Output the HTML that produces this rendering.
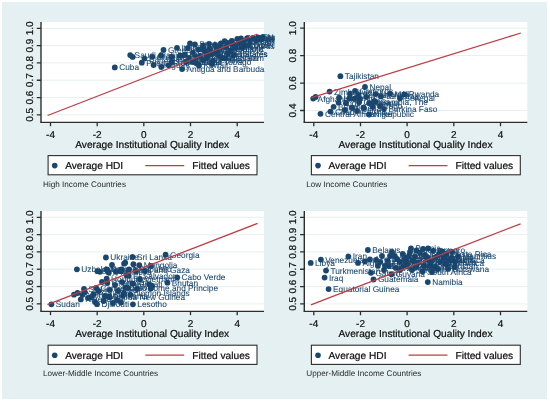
<!DOCTYPE html>
<html><head><meta charset="utf-8"><style>
html,body{margin:0;padding:0;background:#fff;}
svg{display:block;font-family:"Liberation Sans", sans-serif;will-change:transform;filter:blur(0.3px);}
text{text-rendering:geometricPrecision;}
</style></head><body>
<svg width="550" height="402" viewBox="0 0 550 402">
<rect x="0" y="0" width="550" height="402" fill="#fff"/>
<rect x="2" y="2" width="545" height="397" fill="#e4f0f1"/>
<clipPath id="c0_0"><rect x="2" y="2" width="272.5" height="190"/></clipPath>
<g clip-path="url(#c0_0)">
<rect x="41" y="22" width="223" height="100" fill="#fff"/>
<line x1="41" y1="114.8" x2="264" y2="114.8" stroke="#e6eff0" stroke-width="1"/>
<line x1="41" y1="97.6" x2="264" y2="97.6" stroke="#e6eff0" stroke-width="1"/>
<line x1="41" y1="80.2" x2="264" y2="80.2" stroke="#e6eff0" stroke-width="1"/>
<line x1="41" y1="62.9" x2="264" y2="62.9" stroke="#e6eff0" stroke-width="1"/>
<line x1="41" y1="45.6" x2="264" y2="45.6" stroke="#e6eff0" stroke-width="1"/>
<line x1="41" y1="28.4" x2="264" y2="28.4" stroke="#e6eff0" stroke-width="1"/>
<line x1="41" y1="22" x2="41" y2="122.4" stroke="#2e2e2e" stroke-width="1.4"/>
<line x1="40.3" y1="122.4" x2="264" y2="122.4" stroke="#2e2e2e" stroke-width="1.4"/>
<line x1="36.8" y1="114.85" x2="41" y2="114.85" stroke="#2e2e2e" stroke-width="1.3"/>
<text x="32.6" y="114.8" transform="rotate(-90 32.6 114.8)" text-anchor="middle" font-size="10" fill="#111" stroke="#111" stroke-width="0.22">0.5</text>
<line x1="36.8" y1="97.55" x2="41" y2="97.55" stroke="#2e2e2e" stroke-width="1.3"/>
<text x="32.6" y="97.6" transform="rotate(-90 32.6 97.6)" text-anchor="middle" font-size="10" fill="#111" stroke="#111" stroke-width="0.22">0.6</text>
<line x1="36.8" y1="80.25" x2="41" y2="80.25" stroke="#2e2e2e" stroke-width="1.3"/>
<text x="32.6" y="80.2" transform="rotate(-90 32.6 80.2)" text-anchor="middle" font-size="10" fill="#111" stroke="#111" stroke-width="0.22">0.7</text>
<line x1="36.8" y1="62.95" x2="41" y2="62.95" stroke="#2e2e2e" stroke-width="1.3"/>
<text x="32.6" y="62.9" transform="rotate(-90 32.6 62.9)" text-anchor="middle" font-size="10" fill="#111" stroke="#111" stroke-width="0.22">0.8</text>
<line x1="36.8" y1="45.65" x2="41" y2="45.65" stroke="#2e2e2e" stroke-width="1.3"/>
<text x="32.6" y="45.6" transform="rotate(-90 32.6 45.6)" text-anchor="middle" font-size="10" fill="#111" stroke="#111" stroke-width="0.22">0.9</text>
<line x1="36.8" y1="28.35" x2="41" y2="28.35" stroke="#2e2e2e" stroke-width="1.3"/>
<text x="32.6" y="28.4" transform="rotate(-90 32.6 28.4)" text-anchor="middle" font-size="10" fill="#111" stroke="#111" stroke-width="0.22">1.0</text>
<line x1="50.5" y1="122" x2="50.5" y2="126.2" stroke="#2e2e2e" stroke-width="1.3"/>
<text x="50.5" y="138" text-anchor="middle" font-size="10" fill="#111" stroke="#111" stroke-width="0.22">-4</text>
<line x1="97.2" y1="122" x2="97.2" y2="126.2" stroke="#2e2e2e" stroke-width="1.3"/>
<text x="97.2" y="138" text-anchor="middle" font-size="10" fill="#111" stroke="#111" stroke-width="0.22">-2</text>
<line x1="143.8" y1="122" x2="143.8" y2="126.2" stroke="#2e2e2e" stroke-width="1.3"/>
<text x="143.8" y="138" text-anchor="middle" font-size="10" fill="#111" stroke="#111" stroke-width="0.22">0</text>
<line x1="190.5" y1="122" x2="190.5" y2="126.2" stroke="#2e2e2e" stroke-width="1.3"/>
<text x="190.5" y="138" text-anchor="middle" font-size="10" fill="#111" stroke="#111" stroke-width="0.22">2</text>
<line x1="237.2" y1="122" x2="237.2" y2="126.2" stroke="#2e2e2e" stroke-width="1.3"/>
<text x="237.2" y="138" text-anchor="middle" font-size="10" fill="#111" stroke="#111" stroke-width="0.22">4</text>
<text x="152.2" y="148" text-anchor="middle" font-size="10.16" fill="#111" stroke="#111" stroke-width="0.22">Average Institutional Quality Index</text>
<circle cx="114.8" cy="67.4" r="2.9" fill="#1a476f"/>
<circle cx="130.2" cy="55.1" r="2.9" fill="#1a476f"/>
<circle cx="132.6" cy="56.9" r="2.9" fill="#1a476f"/>
<circle cx="141.8" cy="62.7" r="2.9" fill="#1a476f"/>
<circle cx="144.5" cy="58.6" r="2.9" fill="#1a476f"/>
<circle cx="152.3" cy="56.8" r="2.9" fill="#1a476f"/>
<circle cx="153.6" cy="65.0" r="2.9" fill="#1a476f"/>
<circle cx="161.0" cy="55.3" r="2.9" fill="#1a476f"/>
<circle cx="161.3" cy="67.0" r="2.9" fill="#1a476f"/>
<circle cx="163.5" cy="50.0" r="2.9" fill="#1a476f"/>
<circle cx="171.7" cy="62.2" r="2.9" fill="#1a476f"/>
<circle cx="171.8" cy="57.0" r="2.9" fill="#1a476f"/>
<circle cx="177.0" cy="47.8" r="2.9" fill="#1a476f"/>
<circle cx="184.9" cy="54.5" r="2.9" fill="#1a476f"/>
<circle cx="182.1" cy="69.1" r="2.9" fill="#1a476f"/>
<circle cx="183.5" cy="55.3" r="2.9" fill="#1a476f"/>
<circle cx="190.0" cy="43.5" r="2.9" fill="#1a476f"/>
<circle cx="193.0" cy="53.0" r="2.9" fill="#1a476f"/>
<circle cx="192.2" cy="61.8" r="2.9" fill="#1a476f"/>
<circle cx="194.9" cy="44.4" r="2.9" fill="#1a476f"/>
<circle cx="196.6" cy="63.5" r="2.9" fill="#1a476f"/>
<circle cx="198.3" cy="49.6" r="2.9" fill="#1a476f"/>
<circle cx="200.0" cy="56.0" r="2.9" fill="#1a476f"/>
<circle cx="203.0" cy="45.5" r="2.9" fill="#1a476f"/>
<circle cx="201.7" cy="49.1" r="2.9" fill="#1a476f"/>
<circle cx="207.0" cy="58.0" r="2.9" fill="#1a476f"/>
<circle cx="209.0" cy="44.0" r="2.9" fill="#1a476f"/>
<circle cx="211.0" cy="54.0" r="2.9" fill="#1a476f"/>
<circle cx="225.4" cy="58.4" r="2.9" fill="#1a476f"/>
<circle cx="215.0" cy="45.0" r="2.9" fill="#1a476f"/>
<circle cx="217.0" cy="50.0" r="2.9" fill="#1a476f"/>
<circle cx="219.0" cy="56.0" r="2.9" fill="#1a476f"/>
<circle cx="221.0" cy="43.5" r="2.9" fill="#1a476f"/>
<circle cx="224.6" cy="41.2" r="2.9" fill="#1a476f"/>
<circle cx="226.0" cy="47.0" r="2.9" fill="#1a476f"/>
<circle cx="213.2" cy="53.8" r="2.9" fill="#1a476f"/>
<circle cx="230.0" cy="43.0" r="2.9" fill="#1a476f"/>
<circle cx="232.0" cy="41.0" r="2.9" fill="#1a476f"/>
<circle cx="234.0" cy="45.0" r="2.9" fill="#1a476f"/>
<circle cx="237.3" cy="39.0" r="2.9" fill="#1a476f"/>
<circle cx="239.0" cy="43.0" r="2.9" fill="#1a476f"/>
<circle cx="241.0" cy="38.5" r="2.9" fill="#1a476f"/>
<circle cx="244.0" cy="42.0" r="2.9" fill="#1a476f"/>
<circle cx="247.0" cy="38.5" r="2.9" fill="#1a476f"/>
<circle cx="250.0" cy="41.0" r="2.9" fill="#1a476f"/>
<circle cx="253.0" cy="38.0" r="2.9" fill="#1a476f"/>
<circle cx="256.0" cy="40.5" r="2.9" fill="#1a476f"/>
<circle cx="258.0" cy="37.5" r="2.9" fill="#1a476f"/>
<circle cx="261.0" cy="39.5" r="2.9" fill="#1a476f"/>
<circle cx="263.0" cy="37.0" r="2.9" fill="#1a476f"/>
<circle cx="236.0" cy="48.0" r="2.9" fill="#1a476f"/>
<circle cx="244.0" cy="46.0" r="2.9" fill="#1a476f"/>
<circle cx="222.0" cy="58.0" r="2.9" fill="#1a476f"/>
<circle cx="168.7" cy="65.3" r="2.9" fill="#1a476f"/>
<circle cx="180.0" cy="55.7" r="2.9" fill="#1a476f"/>
<circle cx="205.0" cy="51.0" r="2.9" fill="#1a476f"/>
<circle cx="228.0" cy="53.5" r="2.9" fill="#1a476f"/>
<circle cx="213.0" cy="61.0" r="2.9" fill="#1a476f"/>
<circle cx="188.0" cy="48.0" r="2.9" fill="#1a476f"/>
<circle cx="189.0" cy="58.0" r="2.9" fill="#1a476f"/>
<circle cx="203.0" cy="60.0" r="2.9" fill="#1a476f"/>
<circle cx="207.0" cy="54.5" r="2.9" fill="#1a476f"/>
<circle cx="210.0" cy="49.0" r="2.9" fill="#1a476f"/>
<circle cx="218.0" cy="52.0" r="2.9" fill="#1a476f"/>
<circle cx="220.0" cy="46.0" r="2.9" fill="#1a476f"/>
<circle cx="231.0" cy="50.5" r="2.9" fill="#1a476f"/>
<circle cx="186.0" cy="62.0" r="2.9" fill="#1a476f"/>
<circle cx="199.0" cy="65.5" r="2.9" fill="#1a476f"/>
<circle cx="212.0" cy="64.0" r="2.9" fill="#1a476f"/>
<circle cx="196.0" cy="57.0" r="2.9" fill="#1a476f"/>
<circle cx="227.0" cy="43.0" r="2.9" fill="#1a476f"/>
<circle cx="242.0" cy="48.0" r="2.9" fill="#1a476f"/>
<circle cx="249.0" cy="45.0" r="2.9" fill="#1a476f"/>
<circle cx="234.0" cy="55.0" r="2.9" fill="#1a476f"/>
<text x="119.2" y="70.3" font-size="8.3" fill="#1a476f" stroke="#1a476f" stroke-width="0.08">Cuba</text>
<text x="134.6" y="58.0" font-size="8.3" fill="#1a476f" stroke="#1a476f" stroke-width="0.08">Saudi Arabia</text>
<text x="146.2" y="65.6" font-size="8.3" fill="#1a476f" stroke="#1a476f" stroke-width="0.08">Puerto Rico</text>
<text x="148.9" y="61.5" font-size="8.3" fill="#1a476f" stroke="#1a476f" stroke-width="0.08">Bahamas</text>
<text x="156.7" y="59.7" font-size="8.3" fill="#1a476f" stroke="#1a476f" stroke-width="0.08">Chile</text>
<text x="158.0" y="67.9" font-size="8.3" fill="#1a476f" stroke="#1a476f" stroke-width="0.08">Uruguay</text>
<text x="167.9" y="52.9" font-size="8.3" fill="#1a476f" stroke="#1a476f" stroke-width="0.08">Greece</text>
<text x="176.1" y="65.1" font-size="8.3" fill="#1a476f" stroke="#1a476f" stroke-width="0.08">Trinidad and Tobago</text>
<text x="176.2" y="59.9" font-size="8.3" fill="#1a476f" stroke="#1a476f" stroke-width="0.08">Hungary</text>
<text x="181.4" y="50.7" font-size="8.3" fill="#1a476f" stroke="#1a476f" stroke-width="0.08">Italy</text>
<text x="189.3" y="57.4" font-size="8.3" fill="#1a476f" stroke="#1a476f" stroke-width="0.08">United Arab Emirates</text>
<text x="186.5" y="72.0" font-size="8.3" fill="#1a476f" stroke="#1a476f" stroke-width="0.08">Antigua and Barbuda</text>
<text x="197.4" y="55.9" font-size="8.3" fill="#1a476f" stroke="#1a476f" stroke-width="0.08">Latvia</text>
<text x="196.6" y="64.7" font-size="8.3" fill="#1a476f" stroke="#1a476f" stroke-width="0.08">Kuwait</text>
<text x="199.3" y="47.3" font-size="8.3" fill="#1a476f" stroke="#1a476f" stroke-width="0.08">Spain</text>
<text x="202.7" y="52.5" font-size="8.3" fill="#1a476f" stroke="#1a476f" stroke-width="0.08">Croatia</text>
<text x="206.1" y="52.0" font-size="8.3" fill="#1a476f" stroke="#1a476f" stroke-width="0.08">Czech Republic</text>
<text x="211.4" y="60.9" font-size="8.3" fill="#1a476f" stroke="#1a476f" stroke-width="0.08">Brunei</text>
<text x="215.4" y="56.9" font-size="8.3" fill="#1a476f" stroke="#1a476f" stroke-width="0.08">Lithuania</text>
<text x="229.8" y="61.3" font-size="8.3" fill="#1a476f" stroke="#1a476f" stroke-width="0.08">Bahrain</text>
<text x="219.4" y="47.9" font-size="8.3" fill="#1a476f" stroke="#1a476f" stroke-width="0.08">Estonia</text>
<text x="229.0" y="44.1" font-size="8.3" fill="#1a476f" stroke="#1a476f" stroke-width="0.08">Israel</text>
<text x="230.4" y="49.9" font-size="8.3" fill="#1a476f" stroke="#1a476f" stroke-width="0.08">Korea</text>
<text x="217.6" y="56.7" font-size="8.3" fill="#1a476f" stroke="#1a476f" stroke-width="0.08">United States</text>
<text x="238.4" y="47.9" font-size="8.3" fill="#1a476f" stroke="#1a476f" stroke-width="0.08">Portugal</text>
<text x="245.4" y="41.4" font-size="8.3" fill="#1a476f" stroke="#1a476f" stroke-width="0.08">France</text>
<text x="248.4" y="44.9" font-size="8.3" fill="#1a476f" stroke="#1a476f" stroke-width="0.08">Japan</text>
<text x="254.4" y="43.9" font-size="8.3" fill="#1a476f" stroke="#1a476f" stroke-width="0.08">Belgium</text>
<text x="257.4" y="40.9" font-size="8.3" fill="#1a476f" stroke="#1a476f" stroke-width="0.08">Austria</text>
<text x="260.4" y="43.4" font-size="8.3" fill="#1a476f" stroke="#1a476f" stroke-width="0.08">Finland</text>
<text x="262.4" y="40.4" font-size="8.3" fill="#1a476f" stroke="#1a476f" stroke-width="0.08">Canada</text>
<text x="265.4" y="42.4" font-size="8.3" fill="#1a476f" stroke="#1a476f" stroke-width="0.08">Sweden</text>
<text x="267.4" y="39.9" font-size="8.3" fill="#1a476f" stroke="#1a476f" stroke-width="0.08">Norway</text>
<text x="248.4" y="48.9" font-size="8.3" fill="#1a476f" stroke="#1a476f" stroke-width="0.08">Cyprus</text>
<text x="192.4" y="50.9" font-size="8.3" fill="#1a476f" stroke="#1a476f" stroke-width="0.08">Slovenia</text>
<text x="193.4" y="60.9" font-size="8.3" fill="#1a476f" stroke="#1a476f" stroke-width="0.08">Brunei Darussalam</text>
<text x="207.4" y="62.9" font-size="8.3" fill="#1a476f" stroke="#1a476f" stroke-width="0.08">Argentina</text>
<text x="214.4" y="51.9" font-size="8.3" fill="#1a476f" stroke="#1a476f" stroke-width="0.08">New Zealand</text>
<text x="224.4" y="48.9" font-size="8.3" fill="#1a476f" stroke="#1a476f" stroke-width="0.08">Ireland</text>
<text x="190.4" y="64.9" font-size="8.3" fill="#1a476f" stroke="#1a476f" stroke-width="0.08">Oman</text>
<text x="203.4" y="68.4" font-size="8.3" fill="#1a476f" stroke="#1a476f" stroke-width="0.08">Kuwait</text>
<text x="253.4" y="47.9" font-size="8.3" fill="#1a476f" stroke="#1a476f" stroke-width="0.08">Luxembourg</text>
<line x1="47.6" y1="115.5" x2="257.5" y2="34" stroke="#bb3e46" stroke-width="1.3"/>
<rect x="48.1" y="155.6" width="208.9" height="19.2" fill="#fff" stroke="#2e2e2e" stroke-width="1.1"/>
<circle cx="54.7" cy="165.6" r="2.8" fill="#1a476f"/>
<text x="65.2" y="169.3" font-size="10.16" fill="#111" stroke="#111" stroke-width="0.22">Average HDI</text>
<line x1="145.3" y1="165.6" x2="184.2" y2="165.6" stroke="#bb3e46" stroke-width="1.3"/>
<text x="192.3" y="169.3" font-size="10.16" fill="#111" stroke="#111" stroke-width="0.22">Fitted values</text>
<text x="43" y="186.7" font-size="8.16" fill="#2a2a2a" stroke="#2a2a2a" stroke-width="0.0">High Income Countries</text>
</g>
<clipPath id="c263_0"><rect x="265.3" y="2" width="272.5" height="190"/></clipPath>
<g clip-path="url(#c263_0)">
<rect x="304.3" y="22" width="222.99999999999994" height="100" fill="#fff"/>
<line x1="304.3" y1="110.5" x2="527.3" y2="110.5" stroke="#e6eff0" stroke-width="1"/>
<line x1="304.3" y1="83.1" x2="527.3" y2="83.1" stroke="#e6eff0" stroke-width="1"/>
<line x1="304.3" y1="55.6" x2="527.3" y2="55.6" stroke="#e6eff0" stroke-width="1"/>
<line x1="304.3" y1="28.2" x2="527.3" y2="28.2" stroke="#e6eff0" stroke-width="1"/>
<line x1="304.3" y1="22" x2="304.3" y2="122.4" stroke="#2e2e2e" stroke-width="1.4"/>
<line x1="303.6" y1="122.4" x2="527.3" y2="122.4" stroke="#2e2e2e" stroke-width="1.4"/>
<line x1="300.1" y1="110.52" x2="304.3" y2="110.52" stroke="#2e2e2e" stroke-width="1.3"/>
<text x="295.90000000000003" y="110.5" transform="rotate(-90 295.90000000000003 110.5)" text-anchor="middle" font-size="10" fill="#111" stroke="#111" stroke-width="0.22">0.4</text>
<line x1="300.1" y1="83.08" x2="304.3" y2="83.08" stroke="#2e2e2e" stroke-width="1.3"/>
<text x="295.90000000000003" y="83.1" transform="rotate(-90 295.90000000000003 83.1)" text-anchor="middle" font-size="10" fill="#111" stroke="#111" stroke-width="0.22">0.6</text>
<line x1="300.1" y1="55.64" x2="304.3" y2="55.64" stroke="#2e2e2e" stroke-width="1.3"/>
<text x="295.90000000000003" y="55.6" transform="rotate(-90 295.90000000000003 55.6)" text-anchor="middle" font-size="10" fill="#111" stroke="#111" stroke-width="0.22">0.8</text>
<line x1="300.1" y1="28.20" x2="304.3" y2="28.20" stroke="#2e2e2e" stroke-width="1.3"/>
<text x="295.90000000000003" y="28.2" transform="rotate(-90 295.90000000000003 28.2)" text-anchor="middle" font-size="10" fill="#111" stroke="#111" stroke-width="0.22">1.0</text>
<line x1="313.8" y1="122" x2="313.8" y2="126.2" stroke="#2e2e2e" stroke-width="1.3"/>
<text x="313.8" y="138" text-anchor="middle" font-size="10" fill="#111" stroke="#111" stroke-width="0.22">-4</text>
<line x1="360.5" y1="122" x2="360.5" y2="126.2" stroke="#2e2e2e" stroke-width="1.3"/>
<text x="360.5" y="138" text-anchor="middle" font-size="10" fill="#111" stroke="#111" stroke-width="0.22">-2</text>
<line x1="407.1" y1="122" x2="407.1" y2="126.2" stroke="#2e2e2e" stroke-width="1.3"/>
<text x="407.1" y="138" text-anchor="middle" font-size="10" fill="#111" stroke="#111" stroke-width="0.22">0</text>
<line x1="453.8" y1="122" x2="453.8" y2="126.2" stroke="#2e2e2e" stroke-width="1.3"/>
<text x="453.8" y="138" text-anchor="middle" font-size="10" fill="#111" stroke="#111" stroke-width="0.22">2</text>
<line x1="500.5" y1="122" x2="500.5" y2="126.2" stroke="#2e2e2e" stroke-width="1.3"/>
<text x="500.5" y="138" text-anchor="middle" font-size="10" fill="#111" stroke="#111" stroke-width="0.22">4</text>
<text x="415.5" y="148" text-anchor="middle" font-size="10.16" fill="#111" stroke="#111" stroke-width="0.22">Average Institutional Quality Index</text>
<circle cx="340.4" cy="76.2" r="2.9" fill="#1a476f"/>
<circle cx="365.0" cy="87.0" r="2.9" fill="#1a476f"/>
<circle cx="329.6" cy="91.6" r="2.9" fill="#1a476f"/>
<circle cx="313.2" cy="98.6" r="2.9" fill="#1a476f"/>
<circle cx="315.6" cy="97.0" r="2.9" fill="#1a476f"/>
<circle cx="355.0" cy="90.9" r="2.9" fill="#1a476f"/>
<circle cx="339.1" cy="97.7" r="2.9" fill="#1a476f"/>
<circle cx="338.6" cy="102.7" r="2.9" fill="#1a476f"/>
<circle cx="345.9" cy="103.2" r="2.9" fill="#1a476f"/>
<circle cx="349.5" cy="98.2" r="2.9" fill="#1a476f"/>
<circle cx="354.5" cy="98.6" r="2.9" fill="#1a476f"/>
<circle cx="358.6" cy="95.0" r="2.9" fill="#1a476f"/>
<circle cx="359.1" cy="102.3" r="2.9" fill="#1a476f"/>
<circle cx="363.6" cy="107.7" r="2.9" fill="#1a476f"/>
<circle cx="366.4" cy="96.8" r="2.9" fill="#1a476f"/>
<circle cx="369.1" cy="103.2" r="2.9" fill="#1a476f"/>
<circle cx="375.5" cy="94.1" r="2.9" fill="#1a476f"/>
<circle cx="374.5" cy="100.9" r="2.9" fill="#1a476f"/>
<circle cx="372.7" cy="106.8" r="2.9" fill="#1a476f"/>
<circle cx="333.6" cy="106.8" r="2.9" fill="#1a476f"/>
<circle cx="320.5" cy="113.8" r="2.9" fill="#1a476f"/>
<circle cx="330.5" cy="111.6" r="2.9" fill="#1a476f"/>
<circle cx="369.1" cy="114.5" r="2.9" fill="#1a476f"/>
<circle cx="380.9" cy="96.4" r="2.9" fill="#1a476f"/>
<circle cx="390.0" cy="93.6" r="2.9" fill="#1a476f"/>
<circle cx="400.0" cy="98.2" r="2.9" fill="#1a476f"/>
<circle cx="404.4" cy="94.3" r="2.9" fill="#1a476f"/>
<circle cx="375.7" cy="101.8" r="2.9" fill="#1a476f"/>
<circle cx="380.0" cy="105.9" r="2.9" fill="#1a476f"/>
<circle cx="371.0" cy="104.0" r="2.9" fill="#1a476f"/>
<circle cx="384.0" cy="108.8" r="2.9" fill="#1a476f"/>
<circle cx="352.0" cy="108.0" r="2.9" fill="#1a476f"/>
<circle cx="345.0" cy="110.0" r="2.9" fill="#1a476f"/>
<circle cx="357.0" cy="111.0" r="2.9" fill="#1a476f"/>
<circle cx="360.0" cy="99.0" r="2.9" fill="#1a476f"/>
<circle cx="350.0" cy="94.0" r="2.9" fill="#1a476f"/>
<text x="344.8" y="79.1" font-size="8.3" fill="#1a476f" stroke="#1a476f" stroke-width="0.08">Tajikistan</text>
<text x="369.4" y="89.9" font-size="8.3" fill="#1a476f" stroke="#1a476f" stroke-width="0.08">Nepal</text>
<text x="334.0" y="94.5" font-size="8.3" fill="#1a476f" stroke="#1a476f" stroke-width="0.08">Zimbabwe</text>
<text x="317.6" y="101.5" font-size="8.3" fill="#1a476f" stroke="#1a476f" stroke-width="0.08">Afghanistan</text>
<text x="359.4" y="93.8" font-size="8.3" fill="#1a476f" stroke="#1a476f" stroke-width="0.08">Comoros</text>
<text x="343.5" y="100.6" font-size="8.3" fill="#1a476f" stroke="#1a476f" stroke-width="0.08">Haiti</text>
<text x="343.0" y="105.6" font-size="8.3" fill="#1a476f" stroke="#1a476f" stroke-width="0.08">Togo</text>
<text x="353.9" y="101.1" font-size="8.3" fill="#1a476f" stroke="#1a476f" stroke-width="0.08">Benin</text>
<text x="363.0" y="97.9" font-size="8.3" fill="#1a476f" stroke="#1a476f" stroke-width="0.08">Kenya</text>
<text x="363.5" y="105.2" font-size="8.3" fill="#1a476f" stroke="#1a476f" stroke-width="0.08">Guinea</text>
<text x="373.5" y="106.1" font-size="8.3" fill="#1a476f" stroke="#1a476f" stroke-width="0.08">Malawi</text>
<text x="379.9" y="97.0" font-size="8.3" fill="#1a476f" stroke="#1a476f" stroke-width="0.08">Uganda</text>
<text x="338.0" y="109.7" font-size="8.3" fill="#1a476f" stroke="#1a476f" stroke-width="0.08">Burundi</text>
<text x="324.9" y="116.7" font-size="8.3" fill="#1a476f" stroke="#1a476f" stroke-width="0.08">Central African Republic</text>
<text x="334.9" y="114.5" font-size="8.3" fill="#1a476f" stroke="#1a476f" stroke-width="0.08">Chad</text>
<text x="373.5" y="117.4" font-size="8.3" fill="#1a476f" stroke="#1a476f" stroke-width="0.08">Niger</text>
<text x="385.3" y="99.3" font-size="8.3" fill="#1a476f" stroke="#1a476f" stroke-width="0.08">Tanzania</text>
<text x="394.4" y="96.5" font-size="8.3" fill="#1a476f" stroke="#1a476f" stroke-width="0.08">Mali</text>
<text x="404.4" y="101.1" font-size="8.3" fill="#1a476f" stroke="#1a476f" stroke-width="0.08">Senegal</text>
<text x="408.8" y="97.2" font-size="8.3" fill="#1a476f" stroke="#1a476f" stroke-width="0.08">Rwanda</text>
<text x="380.1" y="104.7" font-size="8.3" fill="#1a476f" stroke="#1a476f" stroke-width="0.08">Gambia, The</text>
<text x="384.4" y="108.8" font-size="8.3" fill="#1a476f" stroke="#1a476f" stroke-width="0.08">Togo</text>
<text x="388.4" y="111.7" font-size="8.3" fill="#1a476f" stroke="#1a476f" stroke-width="0.08">Burkina Faso</text>
<text x="356.4" y="110.9" font-size="8.3" fill="#1a476f" stroke="#1a476f" stroke-width="0.08">Liberia</text>
<text x="361.4" y="113.9" font-size="8.3" fill="#1a476f" stroke="#1a476f" stroke-width="0.08">Eritrea</text>
<line x1="311.6" y1="97.6" x2="520.9" y2="33" stroke="#bb3e46" stroke-width="1.3"/>
<rect x="311.40000000000003" y="155.6" width="208.9" height="19.2" fill="#fff" stroke="#2e2e2e" stroke-width="1.1"/>
<circle cx="318.0" cy="165.6" r="2.8" fill="#1a476f"/>
<text x="328.5" y="169.3" font-size="10.16" fill="#111" stroke="#111" stroke-width="0.22">Average HDI</text>
<line x1="408.6" y1="165.6" x2="447.5" y2="165.6" stroke="#bb3e46" stroke-width="1.3"/>
<text x="455.6" y="169.3" font-size="10.16" fill="#111" stroke="#111" stroke-width="0.22">Fitted values</text>
<text x="306.3" y="186.7" font-size="8.16" fill="#2a2a2a" stroke="#2a2a2a" stroke-width="0.0">Low Income Countries</text>
</g>
<clipPath id="c0_189"><rect x="2" y="191.0" width="272.5" height="200"/></clipPath>
<g clip-path="url(#c0_189)">
<rect x="41" y="211.0" width="223" height="100.0" fill="#fff"/>
<line x1="41" y1="303.9" x2="264" y2="303.9" stroke="#e6eff0" stroke-width="1"/>
<line x1="41" y1="286.6" x2="264" y2="286.6" stroke="#e6eff0" stroke-width="1"/>
<line x1="41" y1="269.2" x2="264" y2="269.2" stroke="#e6eff0" stroke-width="1"/>
<line x1="41" y1="251.9" x2="264" y2="251.9" stroke="#e6eff0" stroke-width="1"/>
<line x1="41" y1="234.7" x2="264" y2="234.7" stroke="#e6eff0" stroke-width="1"/>
<line x1="41" y1="217.3" x2="264" y2="217.3" stroke="#e6eff0" stroke-width="1"/>
<line x1="41" y1="211.0" x2="41" y2="311.4" stroke="#2e2e2e" stroke-width="1.4"/>
<line x1="40.3" y1="311.4" x2="264" y2="311.4" stroke="#2e2e2e" stroke-width="1.4"/>
<line x1="36.8" y1="303.85" x2="41" y2="303.85" stroke="#2e2e2e" stroke-width="1.3"/>
<text x="32.6" y="303.9" transform="rotate(-90 32.6 303.9)" text-anchor="middle" font-size="10" fill="#111" stroke="#111" stroke-width="0.22">0.5</text>
<line x1="36.8" y1="286.55" x2="41" y2="286.55" stroke="#2e2e2e" stroke-width="1.3"/>
<text x="32.6" y="286.6" transform="rotate(-90 32.6 286.6)" text-anchor="middle" font-size="10" fill="#111" stroke="#111" stroke-width="0.22">0.6</text>
<line x1="36.8" y1="269.25" x2="41" y2="269.25" stroke="#2e2e2e" stroke-width="1.3"/>
<text x="32.6" y="269.2" transform="rotate(-90 32.6 269.2)" text-anchor="middle" font-size="10" fill="#111" stroke="#111" stroke-width="0.22">0.7</text>
<line x1="36.8" y1="251.95" x2="41" y2="251.95" stroke="#2e2e2e" stroke-width="1.3"/>
<text x="32.6" y="251.9" transform="rotate(-90 32.6 251.9)" text-anchor="middle" font-size="10" fill="#111" stroke="#111" stroke-width="0.22">0.8</text>
<line x1="36.8" y1="234.65" x2="41" y2="234.65" stroke="#2e2e2e" stroke-width="1.3"/>
<text x="32.6" y="234.7" transform="rotate(-90 32.6 234.7)" text-anchor="middle" font-size="10" fill="#111" stroke="#111" stroke-width="0.22">0.9</text>
<line x1="36.8" y1="217.35" x2="41" y2="217.35" stroke="#2e2e2e" stroke-width="1.3"/>
<text x="32.6" y="217.3" transform="rotate(-90 32.6 217.3)" text-anchor="middle" font-size="10" fill="#111" stroke="#111" stroke-width="0.22">1.0</text>
<line x1="50.5" y1="311.0" x2="50.5" y2="315.2" stroke="#2e2e2e" stroke-width="1.3"/>
<text x="50.5" y="327.0" text-anchor="middle" font-size="10" fill="#111" stroke="#111" stroke-width="0.22">-4</text>
<line x1="97.2" y1="311.0" x2="97.2" y2="315.2" stroke="#2e2e2e" stroke-width="1.3"/>
<text x="97.2" y="327.0" text-anchor="middle" font-size="10" fill="#111" stroke="#111" stroke-width="0.22">-2</text>
<line x1="143.8" y1="311.0" x2="143.8" y2="315.2" stroke="#2e2e2e" stroke-width="1.3"/>
<text x="143.8" y="327.0" text-anchor="middle" font-size="10" fill="#111" stroke="#111" stroke-width="0.22">0</text>
<line x1="190.5" y1="311.0" x2="190.5" y2="315.2" stroke="#2e2e2e" stroke-width="1.3"/>
<text x="190.5" y="327.0" text-anchor="middle" font-size="10" fill="#111" stroke="#111" stroke-width="0.22">2</text>
<line x1="237.2" y1="311.0" x2="237.2" y2="315.2" stroke="#2e2e2e" stroke-width="1.3"/>
<text x="237.2" y="327.0" text-anchor="middle" font-size="10" fill="#111" stroke="#111" stroke-width="0.22">4</text>
<text x="152.2" y="337.0" text-anchor="middle" font-size="10.16" fill="#111" stroke="#111" stroke-width="0.22">Average Institutional Quality Index</text>
<circle cx="51.4" cy="304.3" r="2.9" fill="#1a476f"/>
<circle cx="105.9" cy="257.5" r="2.9" fill="#1a476f"/>
<circle cx="132.5" cy="257.0" r="2.9" fill="#1a476f"/>
<circle cx="165.6" cy="254.7" r="2.9" fill="#1a476f"/>
<circle cx="76.9" cy="269.3" r="2.9" fill="#1a476f"/>
<circle cx="74.0" cy="294.7" r="2.9" fill="#1a476f"/>
<circle cx="77.5" cy="293.0" r="2.9" fill="#1a476f"/>
<circle cx="82.5" cy="294.8" r="2.9" fill="#1a476f"/>
<circle cx="85.0" cy="292.3" r="2.9" fill="#1a476f"/>
<circle cx="80.8" cy="299.4" r="2.9" fill="#1a476f"/>
<circle cx="91.2" cy="297.3" r="2.9" fill="#1a476f"/>
<circle cx="93.7" cy="294.2" r="2.9" fill="#1a476f"/>
<circle cx="96.1" cy="288.0" r="2.9" fill="#1a476f"/>
<circle cx="98.6" cy="291.1" r="2.9" fill="#1a476f"/>
<circle cx="97.0" cy="304.2" r="2.9" fill="#1a476f"/>
<circle cx="103.6" cy="301.0" r="2.9" fill="#1a476f"/>
<circle cx="104.9" cy="296.0" r="2.9" fill="#1a476f"/>
<circle cx="109.8" cy="289.9" r="2.9" fill="#1a476f"/>
<circle cx="109.8" cy="297.3" r="2.9" fill="#1a476f"/>
<circle cx="97.4" cy="271.2" r="2.9" fill="#1a476f"/>
<circle cx="99.9" cy="271.8" r="2.9" fill="#1a476f"/>
<circle cx="106.7" cy="269.3" r="2.9" fill="#1a476f"/>
<circle cx="108.6" cy="272.4" r="2.9" fill="#1a476f"/>
<circle cx="116.0" cy="271.8" r="2.9" fill="#1a476f"/>
<circle cx="121.0" cy="271.2" r="2.9" fill="#1a476f"/>
<circle cx="124.1" cy="263.7" r="2.9" fill="#1a476f"/>
<circle cx="106.7" cy="278.7" r="2.9" fill="#1a476f"/>
<circle cx="107.3" cy="283.0" r="2.9" fill="#1a476f"/>
<circle cx="125.2" cy="262.7" r="2.9" fill="#1a476f"/>
<circle cx="139.3" cy="265.2" r="2.9" fill="#1a476f"/>
<circle cx="121.5" cy="269.4" r="2.9" fill="#1a476f"/>
<circle cx="107.3" cy="270.5" r="2.9" fill="#1a476f"/>
<circle cx="128.7" cy="275.7" r="2.9" fill="#1a476f"/>
<circle cx="122.2" cy="282.1" r="2.9" fill="#1a476f"/>
<circle cx="132.7" cy="283.6" r="2.9" fill="#1a476f"/>
<circle cx="149.1" cy="284.3" r="2.9" fill="#1a476f"/>
<circle cx="152.1" cy="285.8" r="2.9" fill="#1a476f"/>
<circle cx="128.0" cy="287.9" r="2.9" fill="#1a476f"/>
<circle cx="125.2" cy="287.3" r="2.9" fill="#1a476f"/>
<circle cx="108.7" cy="297.0" r="2.9" fill="#1a476f"/>
<circle cx="123.0" cy="295.5" r="2.9" fill="#1a476f"/>
<circle cx="124.0" cy="293.0" r="2.9" fill="#1a476f"/>
<circle cx="132.9" cy="304.3" r="2.9" fill="#1a476f"/>
<circle cx="177.2" cy="277.5" r="2.9" fill="#1a476f"/>
<circle cx="167.4" cy="282.7" r="2.9" fill="#1a476f"/>
<circle cx="115.0" cy="285.0" r="2.9" fill="#1a476f"/>
<circle cx="117.0" cy="300.0" r="2.9" fill="#1a476f"/>
<circle cx="140.0" cy="279.0" r="2.9" fill="#1a476f"/>
<circle cx="112.0" cy="265.0" r="2.9" fill="#1a476f"/>
<circle cx="129.0" cy="269.4" r="2.9" fill="#1a476f"/>
<circle cx="150.6" cy="288.8" r="2.9" fill="#1a476f"/>
<circle cx="130.4" cy="294.8" r="2.9" fill="#1a476f"/>
<circle cx="133.4" cy="264.2" r="2.9" fill="#1a476f"/>
<circle cx="126.7" cy="275.4" r="2.9" fill="#1a476f"/>
<circle cx="88.0" cy="298.0" r="2.9" fill="#1a476f"/>
<circle cx="95.0" cy="302.0" r="2.9" fill="#1a476f"/>
<circle cx="113.0" cy="303.0" r="2.9" fill="#1a476f"/>
<circle cx="121.0" cy="302.5" r="2.9" fill="#1a476f"/>
<circle cx="84.0" cy="289.0" r="2.9" fill="#1a476f"/>
<circle cx="102.0" cy="282.0" r="2.9" fill="#1a476f"/>
<circle cx="136.0" cy="271.0" r="2.9" fill="#1a476f"/>
<circle cx="145.0" cy="271.0" r="2.9" fill="#1a476f"/>
<circle cx="151.0" cy="266.0" r="2.9" fill="#1a476f"/>
<circle cx="118.0" cy="291.0" r="2.9" fill="#1a476f"/>
<circle cx="137.0" cy="289.0" r="2.9" fill="#1a476f"/>
<text x="55.8" y="307.2" font-size="8.3" fill="#1a476f" stroke="#1a476f" stroke-width="0.08">Sudan</text>
<text x="110.3" y="260.4" font-size="8.3" fill="#1a476f" stroke="#1a476f" stroke-width="0.08">Ukraine</text>
<text x="136.9" y="259.9" font-size="8.3" fill="#1a476f" stroke="#1a476f" stroke-width="0.08">Sri Lanka</text>
<text x="170.0" y="257.6" font-size="8.3" fill="#1a476f" stroke="#1a476f" stroke-width="0.08">Georgia</text>
<text x="81.3" y="272.2" font-size="8.3" fill="#1a476f" stroke="#1a476f" stroke-width="0.08">Uzbekistan</text>
<text x="86.9" y="297.7" font-size="8.3" fill="#1a476f" stroke="#1a476f" stroke-width="0.08">Yemen</text>
<text x="85.2" y="302.3" font-size="8.3" fill="#1a476f" stroke="#1a476f" stroke-width="0.08">Nigeria</text>
<text x="98.1" y="297.1" font-size="8.3" fill="#1a476f" stroke="#1a476f" stroke-width="0.08">Pakistan</text>
<text x="100.5" y="290.9" font-size="8.3" fill="#1a476f" stroke="#1a476f" stroke-width="0.08">Cameroon</text>
<text x="101.4" y="307.1" font-size="8.3" fill="#1a476f" stroke="#1a476f" stroke-width="0.08">Djibouti</text>
<text x="109.3" y="298.9" font-size="8.3" fill="#1a476f" stroke="#1a476f" stroke-width="0.08">Mauritania</text>
<text x="114.2" y="292.8" font-size="8.3" fill="#1a476f" stroke="#1a476f" stroke-width="0.08">Kenya</text>
<text x="101.8" y="274.1" font-size="8.3" fill="#1a476f" stroke="#1a476f" stroke-width="0.08">Egypt</text>
<text x="111.1" y="272.2" font-size="8.3" fill="#1a476f" stroke="#1a476f" stroke-width="0.08">Kyrgyz Republic</text>
<text x="120.4" y="274.7" font-size="8.3" fill="#1a476f" stroke="#1a476f" stroke-width="0.08">Moldova</text>
<text x="111.1" y="281.6" font-size="8.3" fill="#1a476f" stroke="#1a476f" stroke-width="0.08">Honduras</text>
<text x="111.7" y="285.9" font-size="8.3" fill="#1a476f" stroke="#1a476f" stroke-width="0.08">Ghana</text>
<text x="143.7" y="268.1" font-size="8.3" fill="#1a476f" stroke="#1a476f" stroke-width="0.08">Mongolia</text>
<text x="111.7" y="273.4" font-size="8.3" fill="#1a476f" stroke="#1a476f" stroke-width="0.08">West Bank and Gaza</text>
<text x="133.1" y="278.6" font-size="8.3" fill="#1a476f" stroke="#1a476f" stroke-width="0.08">El Salvador</text>
<text x="126.6" y="285.0" font-size="8.3" fill="#1a476f" stroke="#1a476f" stroke-width="0.08">India</text>
<text x="137.1" y="286.5" font-size="8.3" fill="#1a476f" stroke="#1a476f" stroke-width="0.08">Kiribati</text>
<text x="132.4" y="290.8" font-size="8.3" fill="#1a476f" stroke="#1a476f" stroke-width="0.08">Sao Tome and Principe</text>
<text x="129.6" y="290.2" font-size="8.3" fill="#1a476f" stroke="#1a476f" stroke-width="0.08">Bolivia</text>
<text x="113.1" y="299.9" font-size="8.3" fill="#1a476f" stroke="#1a476f" stroke-width="0.08">Papua New Guinea</text>
<text x="128.4" y="295.9" font-size="8.3" fill="#1a476f" stroke="#1a476f" stroke-width="0.08">Solomon Islands</text>
<text x="137.3" y="307.2" font-size="8.3" fill="#1a476f" stroke="#1a476f" stroke-width="0.08">Lesotho</text>
<text x="181.6" y="280.4" font-size="8.3" fill="#1a476f" stroke="#1a476f" stroke-width="0.08">Cabo Verde</text>
<text x="171.8" y="285.6" font-size="8.3" fill="#1a476f" stroke="#1a476f" stroke-width="0.08">Bhutan</text>
<text x="144.4" y="281.9" font-size="8.3" fill="#1a476f" stroke="#1a476f" stroke-width="0.08">Vietnam</text>
<text x="88.4" y="291.9" font-size="8.3" fill="#1a476f" stroke="#1a476f" stroke-width="0.08">Syria</text>
<line x1="47.4" y1="304.7" x2="257.6" y2="223.4" stroke="#bb3e46" stroke-width="1.3"/>
<rect x="48.1" y="345.2" width="208.9" height="19.2" fill="#fff" stroke="#2e2e2e" stroke-width="1.1"/>
<circle cx="54.7" cy="355.2" r="2.8" fill="#1a476f"/>
<text x="65.2" y="358.9" font-size="10.16" fill="#111" stroke="#111" stroke-width="0.22">Average HDI</text>
<line x1="145.3" y1="355.2" x2="184.2" y2="355.2" stroke="#bb3e46" stroke-width="1.3"/>
<text x="192.3" y="358.9" font-size="10.16" fill="#111" stroke="#111" stroke-width="0.22">Fitted values</text>
<text x="43" y="376.3" font-size="8.16" fill="#2a2a2a" stroke="#2a2a2a" stroke-width="0.0">Lower-Middle Income Countries</text>
</g>
<clipPath id="c263_189"><rect x="265.3" y="191.0" width="272.5" height="200"/></clipPath>
<g clip-path="url(#c263_189)">
<rect x="304.3" y="211.0" width="222.99999999999994" height="100.0" fill="#fff"/>
<line x1="304.3" y1="303.9" x2="527.3" y2="303.9" stroke="#e6eff0" stroke-width="1"/>
<line x1="304.3" y1="286.6" x2="527.3" y2="286.6" stroke="#e6eff0" stroke-width="1"/>
<line x1="304.3" y1="269.2" x2="527.3" y2="269.2" stroke="#e6eff0" stroke-width="1"/>
<line x1="304.3" y1="251.9" x2="527.3" y2="251.9" stroke="#e6eff0" stroke-width="1"/>
<line x1="304.3" y1="234.7" x2="527.3" y2="234.7" stroke="#e6eff0" stroke-width="1"/>
<line x1="304.3" y1="217.3" x2="527.3" y2="217.3" stroke="#e6eff0" stroke-width="1"/>
<line x1="304.3" y1="211.0" x2="304.3" y2="311.4" stroke="#2e2e2e" stroke-width="1.4"/>
<line x1="303.6" y1="311.4" x2="527.3" y2="311.4" stroke="#2e2e2e" stroke-width="1.4"/>
<line x1="300.1" y1="303.85" x2="304.3" y2="303.85" stroke="#2e2e2e" stroke-width="1.3"/>
<text x="295.90000000000003" y="303.9" transform="rotate(-90 295.90000000000003 303.9)" text-anchor="middle" font-size="10" fill="#111" stroke="#111" stroke-width="0.22">0.5</text>
<line x1="300.1" y1="286.55" x2="304.3" y2="286.55" stroke="#2e2e2e" stroke-width="1.3"/>
<text x="295.90000000000003" y="286.6" transform="rotate(-90 295.90000000000003 286.6)" text-anchor="middle" font-size="10" fill="#111" stroke="#111" stroke-width="0.22">0.6</text>
<line x1="300.1" y1="269.25" x2="304.3" y2="269.25" stroke="#2e2e2e" stroke-width="1.3"/>
<text x="295.90000000000003" y="269.2" transform="rotate(-90 295.90000000000003 269.2)" text-anchor="middle" font-size="10" fill="#111" stroke="#111" stroke-width="0.22">0.7</text>
<line x1="300.1" y1="251.95" x2="304.3" y2="251.95" stroke="#2e2e2e" stroke-width="1.3"/>
<text x="295.90000000000003" y="251.9" transform="rotate(-90 295.90000000000003 251.9)" text-anchor="middle" font-size="10" fill="#111" stroke="#111" stroke-width="0.22">0.8</text>
<line x1="300.1" y1="234.65" x2="304.3" y2="234.65" stroke="#2e2e2e" stroke-width="1.3"/>
<text x="295.90000000000003" y="234.7" transform="rotate(-90 295.90000000000003 234.7)" text-anchor="middle" font-size="10" fill="#111" stroke="#111" stroke-width="0.22">0.9</text>
<line x1="300.1" y1="217.35" x2="304.3" y2="217.35" stroke="#2e2e2e" stroke-width="1.3"/>
<text x="295.90000000000003" y="217.3" transform="rotate(-90 295.90000000000003 217.3)" text-anchor="middle" font-size="10" fill="#111" stroke="#111" stroke-width="0.22">1.0</text>
<line x1="313.8" y1="311.0" x2="313.8" y2="315.2" stroke="#2e2e2e" stroke-width="1.3"/>
<text x="313.8" y="327.0" text-anchor="middle" font-size="10" fill="#111" stroke="#111" stroke-width="0.22">-4</text>
<line x1="360.5" y1="311.0" x2="360.5" y2="315.2" stroke="#2e2e2e" stroke-width="1.3"/>
<text x="360.5" y="327.0" text-anchor="middle" font-size="10" fill="#111" stroke="#111" stroke-width="0.22">-2</text>
<line x1="407.1" y1="311.0" x2="407.1" y2="315.2" stroke="#2e2e2e" stroke-width="1.3"/>
<text x="407.1" y="327.0" text-anchor="middle" font-size="10" fill="#111" stroke="#111" stroke-width="0.22">0</text>
<line x1="453.8" y1="311.0" x2="453.8" y2="315.2" stroke="#2e2e2e" stroke-width="1.3"/>
<text x="453.8" y="327.0" text-anchor="middle" font-size="10" fill="#111" stroke="#111" stroke-width="0.22">2</text>
<line x1="500.5" y1="311.0" x2="500.5" y2="315.2" stroke="#2e2e2e" stroke-width="1.3"/>
<text x="500.5" y="327.0" text-anchor="middle" font-size="10" fill="#111" stroke="#111" stroke-width="0.22">4</text>
<text x="415.5" y="337.0" text-anchor="middle" font-size="10.16" fill="#111" stroke="#111" stroke-width="0.22">Average Institutional Quality Index</text>
<circle cx="310.7" cy="262.9" r="2.9" fill="#1a476f"/>
<circle cx="320.9" cy="259.6" r="2.9" fill="#1a476f"/>
<circle cx="326.0" cy="270.6" r="2.9" fill="#1a476f"/>
<circle cx="324.6" cy="277.6" r="2.9" fill="#1a476f"/>
<circle cx="328.6" cy="289.1" r="2.9" fill="#1a476f"/>
<circle cx="348.4" cy="256.4" r="2.9" fill="#1a476f"/>
<circle cx="367.9" cy="250.0" r="2.9" fill="#1a476f"/>
<circle cx="358.0" cy="262.9" r="2.9" fill="#1a476f"/>
<circle cx="365.0" cy="261.4" r="2.9" fill="#1a476f"/>
<circle cx="369.9" cy="259.4" r="2.9" fill="#1a476f"/>
<circle cx="377.9" cy="265.9" r="2.9" fill="#1a476f"/>
<circle cx="387.8" cy="260.9" r="2.9" fill="#1a476f"/>
<circle cx="394.8" cy="255.9" r="2.9" fill="#1a476f"/>
<circle cx="399.7" cy="261.9" r="2.9" fill="#1a476f"/>
<circle cx="395.8" cy="267.9" r="2.9" fill="#1a476f"/>
<circle cx="402.7" cy="253.9" r="2.9" fill="#1a476f"/>
<circle cx="371.0" cy="272.8" r="2.9" fill="#1a476f"/>
<circle cx="391.5" cy="274.2" r="2.9" fill="#1a476f"/>
<circle cx="373.5" cy="279.5" r="2.9" fill="#1a476f"/>
<circle cx="427.8" cy="282.1" r="2.9" fill="#1a476f"/>
<circle cx="382.0" cy="256.0" r="2.9" fill="#1a476f"/>
<circle cx="385.0" cy="266.0" r="2.9" fill="#1a476f"/>
<circle cx="390.0" cy="256.0" r="2.9" fill="#1a476f"/>
<circle cx="405.0" cy="258.0" r="2.9" fill="#1a476f"/>
<circle cx="407.0" cy="265.0" r="2.9" fill="#1a476f"/>
<circle cx="410.0" cy="252.0" r="2.9" fill="#1a476f"/>
<circle cx="412.0" cy="270.0" r="2.9" fill="#1a476f"/>
<circle cx="416.4" cy="250.4" r="2.9" fill="#1a476f"/>
<circle cx="415.0" cy="257.0" r="2.9" fill="#1a476f"/>
<circle cx="418.0" cy="263.0" r="2.9" fill="#1a476f"/>
<circle cx="422.6" cy="271.6" r="2.9" fill="#1a476f"/>
<circle cx="423.0" cy="249.0" r="2.9" fill="#1a476f"/>
<circle cx="425.0" cy="255.0" r="2.9" fill="#1a476f"/>
<circle cx="428.0" cy="260.0" r="2.9" fill="#1a476f"/>
<circle cx="430.0" cy="266.0" r="2.9" fill="#1a476f"/>
<circle cx="433.0" cy="251.0" r="2.9" fill="#1a476f"/>
<circle cx="436.0" cy="257.0" r="2.9" fill="#1a476f"/>
<circle cx="438.0" cy="269.0" r="2.9" fill="#1a476f"/>
<circle cx="440.0" cy="262.0" r="2.9" fill="#1a476f"/>
<circle cx="442.0" cy="251.5" r="2.9" fill="#1a476f"/>
<circle cx="446.3" cy="254.2" r="2.9" fill="#1a476f"/>
<circle cx="458.0" cy="256.5" r="2.9" fill="#1a476f"/>
<circle cx="449.4" cy="260.2" r="2.9" fill="#1a476f"/>
<circle cx="445.1" cy="263.4" r="2.9" fill="#1a476f"/>
<circle cx="448.2" cy="268.9" r="2.9" fill="#1a476f"/>
<circle cx="452.0" cy="258.0" r="2.9" fill="#1a476f"/>
<circle cx="400.0" cy="270.0" r="2.9" fill="#1a476f"/>
<circle cx="376.0" cy="260.0" r="2.9" fill="#1a476f"/>
<circle cx="432.0" cy="272.0" r="2.9" fill="#1a476f"/>
<circle cx="380.0" cy="262.0" r="2.9" fill="#1a476f"/>
<circle cx="384.0" cy="270.0" r="2.9" fill="#1a476f"/>
<circle cx="389.0" cy="266.0" r="2.9" fill="#1a476f"/>
<circle cx="392.0" cy="252.0" r="2.9" fill="#1a476f"/>
<circle cx="397.0" cy="259.0" r="2.9" fill="#1a476f"/>
<circle cx="403.0" cy="267.0" r="2.9" fill="#1a476f"/>
<circle cx="406.0" cy="262.0" r="2.9" fill="#1a476f"/>
<circle cx="409.0" cy="256.0" r="2.9" fill="#1a476f"/>
<circle cx="413.0" cy="261.0" r="2.9" fill="#1a476f"/>
<circle cx="416.0" cy="267.0" r="2.9" fill="#1a476f"/>
<circle cx="420.0" cy="253.0" r="2.9" fill="#1a476f"/>
<circle cx="424.0" cy="266.0" r="2.9" fill="#1a476f"/>
<circle cx="427.0" cy="257.0" r="2.9" fill="#1a476f"/>
<circle cx="431.0" cy="262.0" r="2.9" fill="#1a476f"/>
<circle cx="435.0" cy="267.0" r="2.9" fill="#1a476f"/>
<circle cx="439.0" cy="254.0" r="2.9" fill="#1a476f"/>
<circle cx="444.0" cy="258.0" r="2.9" fill="#1a476f"/>
<circle cx="447.0" cy="265.0" r="2.9" fill="#1a476f"/>
<circle cx="452.0" cy="252.0" r="2.9" fill="#1a476f"/>
<circle cx="455.0" cy="262.0" r="2.9" fill="#1a476f"/>
<circle cx="455.0" cy="267.0" r="2.9" fill="#1a476f"/>
<circle cx="411.0" cy="248.5" r="2.9" fill="#1a476f"/>
<circle cx="428.0" cy="248.5" r="2.9" fill="#1a476f"/>
<text x="315.1" y="265.8" font-size="8.3" fill="#1a476f" stroke="#1a476f" stroke-width="0.08">Libya</text>
<text x="325.3" y="262.5" font-size="8.3" fill="#1a476f" stroke="#1a476f" stroke-width="0.08">Venezuela</text>
<text x="330.4" y="273.5" font-size="8.3" fill="#1a476f" stroke="#1a476f" stroke-width="0.08">Turkmenistan</text>
<text x="329.0" y="280.5" font-size="8.3" fill="#1a476f" stroke="#1a476f" stroke-width="0.08">Iraq</text>
<text x="333.0" y="292.0" font-size="8.3" fill="#1a476f" stroke="#1a476f" stroke-width="0.08">Equatorial Guinea</text>
<text x="352.8" y="259.3" font-size="8.3" fill="#1a476f" stroke="#1a476f" stroke-width="0.08">Iran</text>
<text x="372.3" y="252.9" font-size="8.3" fill="#1a476f" stroke="#1a476f" stroke-width="0.08">Belarus</text>
<text x="362.4" y="265.8" font-size="8.3" fill="#1a476f" stroke="#1a476f" stroke-width="0.08">Algeria</text>
<text x="374.3" y="262.3" font-size="8.3" fill="#1a476f" stroke="#1a476f" stroke-width="0.08">Azerbaijan</text>
<text x="382.3" y="268.8" font-size="8.3" fill="#1a476f" stroke="#1a476f" stroke-width="0.08">Lebanon</text>
<text x="392.2" y="263.8" font-size="8.3" fill="#1a476f" stroke="#1a476f" stroke-width="0.08">Ecuador</text>
<text x="399.2" y="258.8" font-size="8.3" fill="#1a476f" stroke="#1a476f" stroke-width="0.08">Albania</text>
<text x="404.1" y="264.8" font-size="8.3" fill="#1a476f" stroke="#1a476f" stroke-width="0.08">Thailand</text>
<text x="400.2" y="270.8" font-size="8.3" fill="#1a476f" stroke="#1a476f" stroke-width="0.08">Colombia</text>
<text x="407.1" y="256.8" font-size="8.3" fill="#1a476f" stroke="#1a476f" stroke-width="0.08">Fiji</text>
<text x="375.4" y="275.7" font-size="8.3" fill="#1a476f" stroke="#1a476f" stroke-width="0.08">Gabon</text>
<text x="395.9" y="277.1" font-size="8.3" fill="#1a476f" stroke="#1a476f" stroke-width="0.08">Guyana</text>
<text x="377.9" y="282.4" font-size="8.3" fill="#1a476f" stroke="#1a476f" stroke-width="0.08">Guatemala</text>
<text x="432.2" y="285.0" font-size="8.3" fill="#1a476f" stroke="#1a476f" stroke-width="0.08">Namibia</text>
<text x="389.4" y="268.9" font-size="8.3" fill="#1a476f" stroke="#1a476f" stroke-width="0.08">Brazil</text>
<text x="409.4" y="260.9" font-size="8.3" fill="#1a476f" stroke="#1a476f" stroke-width="0.08">Peru</text>
<text x="411.4" y="267.9" font-size="8.3" fill="#1a476f" stroke="#1a476f" stroke-width="0.08">China</text>
<text x="416.4" y="272.9" font-size="8.3" fill="#1a476f" stroke="#1a476f" stroke-width="0.08">Jordan</text>
<text x="420.8" y="253.3" font-size="8.3" fill="#1a476f" stroke="#1a476f" stroke-width="0.08">Montenegro</text>
<text x="419.4" y="259.9" font-size="8.3" fill="#1a476f" stroke="#1a476f" stroke-width="0.08">Turkey</text>
<text x="422.4" y="265.9" font-size="8.3" fill="#1a476f" stroke="#1a476f" stroke-width="0.08">Mexico</text>
<text x="427.0" y="274.5" font-size="8.3" fill="#1a476f" stroke="#1a476f" stroke-width="0.08">South Africa</text>
<text x="429.4" y="257.9" font-size="8.3" fill="#1a476f" stroke="#1a476f" stroke-width="0.08">Serbia</text>
<text x="432.4" y="262.9" font-size="8.3" fill="#1a476f" stroke="#1a476f" stroke-width="0.08">Romania</text>
<text x="434.4" y="268.9" font-size="8.3" fill="#1a476f" stroke="#1a476f" stroke-width="0.08">Kazakhstan</text>
<text x="437.4" y="253.9" font-size="8.3" fill="#1a476f" stroke="#1a476f" stroke-width="0.08">Palau</text>
<text x="440.4" y="259.9" font-size="8.3" fill="#1a476f" stroke="#1a476f" stroke-width="0.08">Malaysia</text>
<text x="444.4" y="264.9" font-size="8.3" fill="#1a476f" stroke="#1a476f" stroke-width="0.08">Grenada</text>
<text x="450.7" y="257.1" font-size="8.3" fill="#1a476f" stroke="#1a476f" stroke-width="0.08">Costa Rica</text>
<text x="462.4" y="259.4" font-size="8.3" fill="#1a476f" stroke="#1a476f" stroke-width="0.08">Mauritius</text>
<text x="453.8" y="263.1" font-size="8.3" fill="#1a476f" stroke="#1a476f" stroke-width="0.08">Jamaica</text>
<text x="449.5" y="266.3" font-size="8.3" fill="#1a476f" stroke="#1a476f" stroke-width="0.08">Dominica</text>
<text x="452.6" y="271.8" font-size="8.3" fill="#1a476f" stroke="#1a476f" stroke-width="0.08">Botswana</text>
<text x="384.4" y="264.9" font-size="8.3" fill="#1a476f" stroke="#1a476f" stroke-width="0.08">Tunisia</text>
<text x="401.4" y="261.9" font-size="8.3" fill="#1a476f" stroke="#1a476f" stroke-width="0.08">Dominican Republic</text>
<text x="407.4" y="269.9" font-size="8.3" fill="#1a476f" stroke="#1a476f" stroke-width="0.08">Bulgaria</text>
<text x="413.4" y="258.9" font-size="8.3" fill="#1a476f" stroke="#1a476f" stroke-width="0.08">Macedonia</text>
<text x="420.4" y="269.9" font-size="8.3" fill="#1a476f" stroke="#1a476f" stroke-width="0.08">Suriname</text>
<text x="435.4" y="264.9" font-size="8.3" fill="#1a476f" stroke="#1a476f" stroke-width="0.08">Belize</text>
<text x="415.4" y="251.4" font-size="8.3" fill="#1a476f" stroke="#1a476f" stroke-width="0.08">Bosnia</text>
<line x1="310.9" y1="304.9" x2="520.6" y2="223.8" stroke="#bb3e46" stroke-width="1.3"/>
<rect x="311.40000000000003" y="345.2" width="208.9" height="19.2" fill="#fff" stroke="#2e2e2e" stroke-width="1.1"/>
<circle cx="318.0" cy="355.2" r="2.8" fill="#1a476f"/>
<text x="328.5" y="358.9" font-size="10.16" fill="#111" stroke="#111" stroke-width="0.22">Average HDI</text>
<line x1="408.6" y1="355.2" x2="447.5" y2="355.2" stroke="#bb3e46" stroke-width="1.3"/>
<text x="455.6" y="358.9" font-size="10.16" fill="#111" stroke="#111" stroke-width="0.22">Fitted values</text>
<text x="306.3" y="376.3" font-size="8.16" fill="#2a2a2a" stroke="#2a2a2a" stroke-width="0.0">Upper-Middle Income Countries</text>
</g>
</svg>
</body></html>
